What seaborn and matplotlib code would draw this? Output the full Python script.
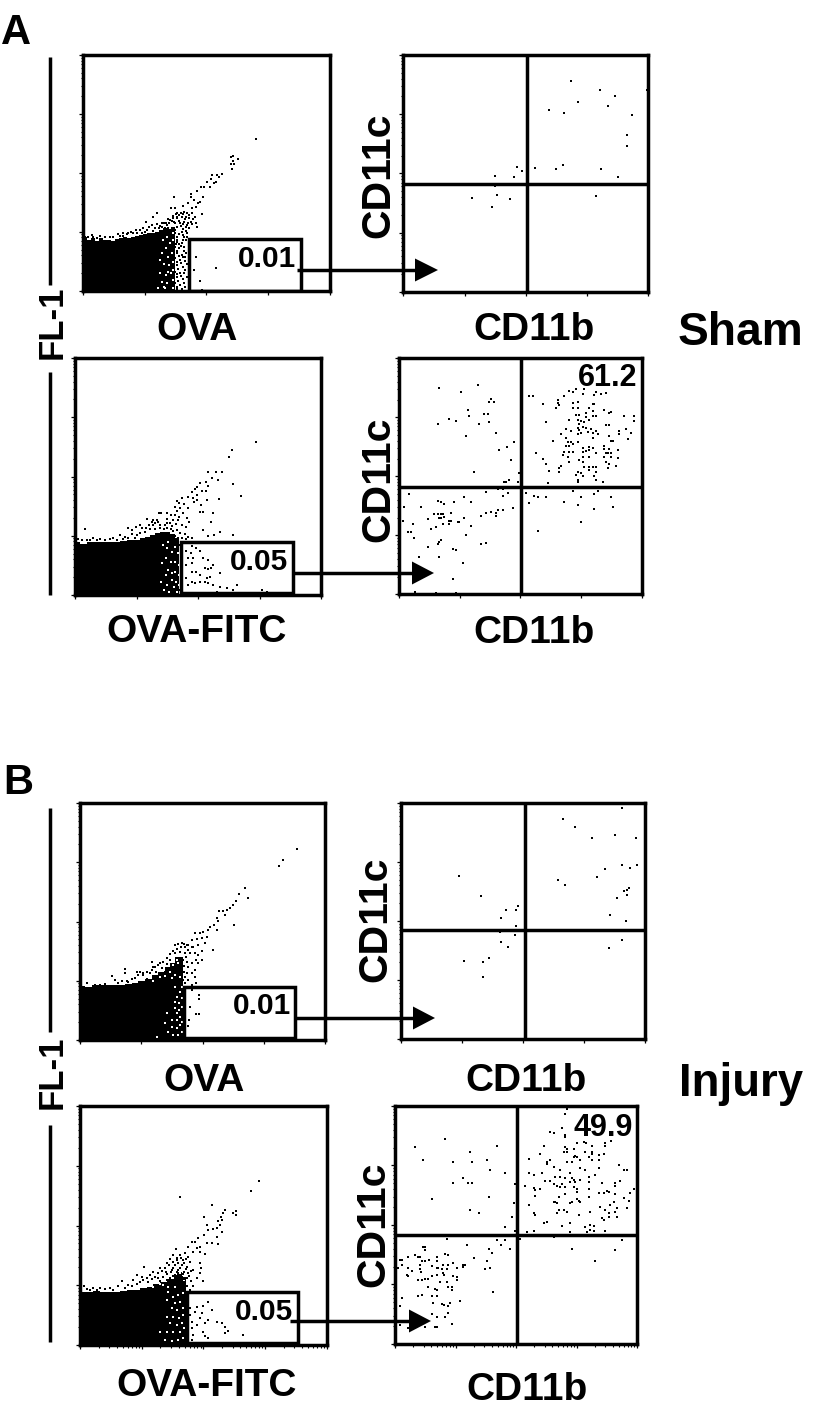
import numpy as np
import matplotlib
matplotlib.use("Agg")
import matplotlib.pyplot as plt
from matplotlib.patches import Polygon, Rectangle
import seaborn as sns

sns.set_style("white")
plt.rcParams["font.family"] = ["Liberation Sans", "DejaVu Sans"]
W, H = 816, 1407

# ---- axis ranges of each panel, in the instrument channel units used below
p1_range = (68, 810, 752, 45)
p2_range = (40, 775, 755, 45)
p3_range = (45, 783, 750, 40)
p4_range = (42, 770, 748, 40)
p5_range = (60, 795, 750, 40)
p6_range = (47, 780, 748, 40)
p7_range = (60, 800, 750, 33)
p8_range = (30, 757, 748, 33)

# ---- quadrant gates (x, y) and percentages
p2_cross = (410, 432)
p4_cross = (408, 425)
p6_cross = (420, 422)
p8_cross = (397, 420)
p1_gate = (388, 722, 597, 752)
p3_gate = (363, 698, 592, 745)
p5_gate = (373, 705, 590, 745)
p7_gate = (380, 715, 590, 745)
gate_labels = ["0.01", "0.05", "0.01", "0.05"]
quad_labels = ["61.2", "49.9"]

# ---- saturated population outline: channel x, upper edge
p1_mass_x = [68, 80, 92, 104, 116, 128, 140, 152, 164, 176, 188, 200, 212, 224, 236, 248, 260, 272, 284, 296, 308, 320, 332, 345]
p1_mass_top = [592, 600, 594, 602, 594, 600, 600, 604, 598, 594, 592, 594, 590, 588, 585, 582, 580, 578, 575, 570, 565, 562, 560, 560]
p3_mass_x = [45, 60, 80, 100, 120, 140, 160, 180, 200, 220, 240, 255, 270, 285, 300, 315, 330, 345, 358]
p3_mass_top = [592, 596, 592, 590, 590, 590, 590, 588, 586, 584, 580, 576, 570, 565, 560, 560, 566, 580, 600]
p5_mass_x = [60, 75, 95, 115, 135, 155, 175, 195, 215, 235, 255, 275, 295, 315, 330, 345, 358, 368]
p5_mass_top = [588, 590, 586, 586, 586, 584, 584, 582, 578, 572, 566, 556, 545, 532, 518, 502, 500, 530]
p7_mass_x = [60, 80, 100, 120, 140, 160, 180, 200, 220, 240, 260, 280, 300, 320, 335, 350, 365, 378]
p7_mass_top = [590, 592, 588, 590, 590, 590, 588, 586, 584, 580, 576, 568, 560, 552, 540, 530, 545, 585]

# ---- events
p1_events = [(589,296),(513,350),(520,347),(535,357),(520,362),(513,372),(522,373),(515,386),(487,402),(472,405),(455,405),(477,412),(452,418),(468,425),(440,425),(431,440),(422,442),(463,430),(450,440),(410,452),(392,463),(392,472),(430,470),(402,480),(415,488),(420,485),(343,470),(385,490),(370,498),(395,505),(408,500),(332,505),(345,505),(425,522),(290,518),(280,530),(258,545),(405,532),(407,548),(412,560),
(350,518),(362,518),(372,515),(380,520),(388,525),(395,520),(340,528),(352,530),(365,530),(378,532),(388,535),(398,538),(325,538),(335,542),(358,542),(372,545),(385,548),(395,552),(312,548),(345,550),(322,555),(362,558),(378,560),(388,565),(300,558),(292,552),(275,555),(268,562),(250,565),(240,570),(228,570),(212,575),(205,580),(190,578),(180,588),(160,590),(135,590),(120,587),(100,590),(85,590),(72,578),(345,570),(365,575),(382,580),(350,590),(372,592),
(350,605),(365,610),(378,600),(345,620),(358,625),(372,622),(350,640),(365,645),(378,640),(345,655),(360,660),(375,662),(350,675),(368,680),(380,672),(345,695),(360,698),(375,690),(350,712),(368,718),(380,710),(345,730),(360,735),(375,742),(352,748),(330,748),
(407,652),(402,690),(468,685),(420,722),(425,750)]
p1_fringe = [(305,560),(315,565),(328,548),(338,535),(348,522),(358,525),(368,522),(375,538),(360,550),(370,552),(382,555),(392,545),(352,562),(368,568),(378,572),(358,582),(368,585),(380,592),(345,580),(335,565),(310,575),(300,572),(285,565),(278,572),(262,570),(255,577),(245,578),(232,578),(220,578),(200,582),(190,588),(175,582),(150,592),(110,595),(95,585),(75,590),(352,535),(342,545),(330,540),(318,548),(305,550),(296,565),(352,600),(358,612),(348,612),(370,600),(362,618),(352,632),(372,632),(356,648),(370,652),(352,665),(364,670),(376,650),(354,686),(372,700),(350,702),(362,708),(355,722),(372,728),(350,742),(365,748)]
p1_gaps = [(305,640),(318,625),(330,610),(338,580),(320,590),(308,600),(325,650),(335,640),(312,672),(328,675),(338,665),(300,700),(318,705),(332,698),(305,725),(322,730),(338,720),(295,745),(315,745),(340,745),(300,660),(340,690),(330,565),(340,600),(325,695),(312,742)]

p2_events = [(543,122),(629,150),(675,169),(771,150),(564,187),(654,197),(478,211),(522,220),(725,225),(710,285),(710,318),(382,380),(396,393),(436,384),(497,388),(518,375),(634,388),(685,412),(315,407),(371,412),(316,437),(321,464),(245,473),(361,478),(305,501),(618,468)]

p3_events = [(587,292),(516,315),(506,338),(445,382),(467,382),(487,382),(473,405),(455,400),(520,418),(543,452),(478,462),(438,412),(420,415),(412,425),(405,432),(445,422),(395,440),(425,438),(438,438),(410,450),(400,458),(385,455),(365,458),(352,468),(358,475),(412,465),(402,472),(440,465),(422,480),(345,485),(360,490),(372,478),(385,488),(350,497),(296,504),(303,504),(420,500),(428,500),(458,505),(320,505),(332,510),(345,510),(358,515),(370,505),(380,520),(322,522),(340,525),(355,525),(452,532),(388,530),(280,525),(290,525),(262,523),(330,535),(348,538),(365,540),(378,545),(268,540),(280,540),(300,540),(315,540),(240,540),(245,550),(228,545),(205,548),(215,555),(312,552),(332,552),(350,555),(430,555),(480,562),(75,551),(462,570),(520,570),(445,572),(360,565),(375,568),(385,575),(405,590),(415,590),(430,595),(395,580),(230,570),(215,568),(195,575),(180,570),(170,585),(150,582),(120,582),(100,580),(55,582),(80,585),
(395,602),(408,610),(378,618),(393,625),(420,618),(430,640),(385,640),(400,640),(445,645),(378,660),(395,655),(435,670),(445,672),(458,660),(452,668),(480,683),(395,680),(408,680),(420,690),(440,700),(450,695),(395,712),(405,715),(420,712),(435,712),(445,715),(458,720),(480,725),(500,728),(530,720),(520,735),(605,735),(620,740),(470,740),(490,745),(385,720),(378,700),
(370,745),(380,745),(390,745),(400,745),(410,745),(420,745),(430,745),(440,745),(450,745),(460,745),(470,745),
(340,600),(350,615),(345,640),(355,635),(340,665),(352,670),(345,690),(355,700),(338,715),(350,722),(358,735),(340,735)]
p3_fringe = [(275,530),(285,535),(295,532),(258,548),(270,552),(285,552),(300,550),(322,535),(335,542),(322,548),(340,558),(255,560),(240,565),(225,578),(205,580),(188,582),(135,584),(90,584),(65,585),(110,584),(160,578),(345,572),(355,580),(366,580),(378,582),(388,590),(335,575),(352,592),(360,600)]
p3_gaps = [(320,610),(335,620),(318,640),(332,650),(305,655),(325,675),(335,685),(318,690),(302,712),(320,720),(335,705),(312,735),(328,740),(345,605),(355,625),(345,650),(358,660),(345,680),(358,690),(348,710),(358,720),(342,725),(352,740),(310,600),(325,590)]

p4_events = [(162,128),(228,142),(278,119),(318,161),(312,171),(327,171),(248,195),(252,212),(297,208),(308,208),(192,223),(212,227),(158,236),(283,236),(313,232),(333,264),(242,273),(388,292),(367,307),(343,315),(378,344),(268,382),(373,405),(362,410),(357,411),(398,410),(403,385),
(433,152),(443,152),(553,138),(573,131),(563,141),(598,131),(593,146),(633,142),(628,151),(648,147),(663,144),(538,152),(518,165),(518,175),(473,176),(523,180),(513,188),(563,175),(578,171),(623,176),(628,176),(578,188),(563,190),(613,188),(623,197),(658,195),(678,200),(673,205),(718,212),(748,212),(748,227),(483,232),(553,225),(573,211),(583,211),(603,205),(603,215),(623,212),(633,212),(578,225),(588,228),(598,232),(613,225),(583,238),(593,245),(663,240),(673,240),(543,252),(558,258),(578,250),(583,255),(603,250),(618,252),(633,257),(723,252),(703,258),(738,264),(528,268),(578,268),(588,265),(608,262),(623,265),(638,266),(703,268),(673,273),(543,278),(503,287),(548,292),(558,292),(578,290),(623,280),(678,287),(683,287),(728,283),(543,302),(553,302),(563,297),(593,308),(613,305),(658,302),(658,311),(673,312),(698,315),(538,320),(533,330),(553,322),(563,320),(593,320),(603,318),(613,315),(623,310),(633,325),(663,325),(668,325),(678,325),(453,325),(473,341),(548,337),(553,352),(593,335),(613,335),(658,335),(678,335),(698,340),(528,362),(583,345),(593,352),(598,365),(613,365),(623,365),(633,365),(663,350),(673,358),(693,362),(483,358),(523,368),(493,377),(523,382),(578,380),(588,385),(613,375),(633,380),(573,390),(593,392),(628,392),(668,368),(578,405),(578,410),(633,405),(653,410),(488,415),(603,430),
(423,443),(448,452),(458,457),(483,457),(433,473),(563,438),(588,457),(628,447),(638,438),(678,457),(538,472),(578,481),(628,491),(683,486),(588,532),(458,557),
(73,448),(58,485),(108,485),(158,467),(168,471),(178,476),(208,471),(238,457),(258,472),(303,440),(338,433),(353,431),(368,443),(353,452),(383,490),(353,495),(338,495),(333,505),(333,512),(318,500),(303,505),(288,513),(238,518),(198,505),(148,508),(158,508),(168,508),(173,508),(163,518),(168,520),(128,523),(178,515),(53,527),(193,528),(198,528),(218,532),(223,532),(83,537),(173,538),(193,538),(138,551),(153,547),(258,542),(68,560),(78,560),(88,580),(168,584),(163,590),(158,598),(128,606),(243,570),(288,598),(303,593),(203,611),(213,616),(103,635),(163,635),(233,655),(203,701),(90,741),(153,744),(213,744)]

p5_events = [(712,177),(669,210),(656,229),(555,296),(538,314),(565,324),(527,335),(518,345),(510,355),(500,360),(490,365),(478,365),(495,375),(470,385),(475,393),(462,405),(450,410),(522,404),(470,420),(445,420),(430,425),(420,430),(440,440),(405,430),(425,445),(410,448),(395,450),(435,460),(415,465),(400,470),(385,465),(460,480),(375,470),(345,465),(425,483),(415,495),(405,490),(390,490),(408,510),(425,510),(395,520),(415,520),(385,530),(405,540),(395,550),(405,560),(195,537),(195,548),(155,557),(185,572),(165,570),(175,578),(205,575),(240,545),(248,555),(225,565),(260,568),(275,515),(280,530),(295,525),(270,550),(300,550),(315,545),(255,575),(385,570),(395,585),(408,580),(375,580),(80,580),(105,585),(120,585),(135,582),
(395,600),(418,615),(418,627),(390,650),(408,673),(418,673),(388,690),(383,707),(460,745)]
p5_fringe = [(355,462),(365,460),(372,462),(380,465),(362,472),(350,478),(340,482),(330,492),(345,490),(360,485),(375,490),(385,480),(395,470),(378,500),(368,510),(380,515),(372,528),(320,505),(310,515),(300,520),(330,510),(285,530),(275,540),(262,545),(250,548),(235,555),(215,568),(200,572),(230,545),(305,535),(288,545),(320,522),(372,545),(382,548),(376,560),(368,570),(360,578),(345,570),(355,590)]
p5_gaps = [(365,590),(360,605),(352,620),(345,635),(358,640),(345,655),(358,660),(350,670),(320,668),(335,690),(350,690),(360,680),(315,700),(335,710),(350,715),(360,705),(325,725),(340,735),(355,735),(290,742),(345,555),(330,545),(355,520),(340,525),(352,510),(360,560),(300,560),(280,572),(365,625),(365,650),(365,695),(365,725),(335,565),(315,558),(345,590)]

p6_events = [(711,55),(535,89),(570,112),(691,135),(620,145),(752,145),(222,258),(711,226),(757,226),(736,234),(661,239),(636,263),(520,272),(540,286),(732,296),(717,305),(727,300),(727,315),(697,325),(288,320),(398,348),(363,362),(393,362),(349,386),(676,376),(722,395),(393,410),(344,428),(389,437),(349,456),(368,471),(711,452),(671,476),(312,505),(237,513),(293,518),(293,561)]

p7_events = [(598,258),(573,287),(360,307),(455,331),(495,345),(518,355),(527,347),(527,360),(490,355),(482,365),(475,378),(485,375),(432,365),(440,390),(480,390),(470,400),(487,412),(460,403),(445,405),(432,420),(415,428),(470,425),(455,445),(475,447),(440,445),(405,440),(420,455),(395,440),(410,460),(385,455),(347,462),(400,470),(420,470),(435,478),(375,475),(360,480),(385,485),(340,480),(330,492),(350,495),(370,495),(390,500),(320,505),(345,510),(365,510),(382,515),(420,505),(422,520),(400,525),(252,515),(300,520),(315,520),(335,525),(355,525),(372,530),(385,535),(420,535),(428,558),(410,548),(280,530),(295,535),(320,538),(345,540),(365,545),(382,550),(230,540),(245,545),(262,548),(185,558),(220,555),(240,560),(265,562),(295,550),(320,555),(345,560),(375,565),(400,572),(205,570),(175,572),(150,578),(120,578),(100,580),(72,572),(80,582),(160,585),(335,575),(360,578),(390,585),
(445,620),(430,632),(410,637),(390,640),(405,650),(425,655),(455,645),(390,660),(420,668),(445,675),(470,680),(485,683),(395,680),(410,690),(435,685),(395,700),(495,697),(503,707),(430,712),(495,715),(550,720),(398,720),(435,722),(445,728),(395,735)]
p7_fringe = [(352,488),(362,490),(378,492),(338,500),(355,505),(372,505),(328,510),(340,518),(360,518),(378,522),(392,528),(306,528),(318,530),(332,532),(350,532),(370,538),(388,542),(270,540),(285,545),(308,545),(330,548),(355,550),(372,552),(392,558),(250,555),(275,552),(300,558),(330,562),(360,565),(382,572),(230,568),(215,572),(195,578),(135,582),(110,585),(90,586),(355,590),(370,585)]
p7_gaps = [(325,590),(340,605),(355,600),(370,595),(322,615),(345,625),(360,620),(335,640),(350,645),(368,640),(320,665),(340,665),(358,670),(370,660),(330,685),(350,690),(365,685),(300,710),(320,710),(340,712),(360,710),(372,700),(315,735),(335,738),(355,735),(370,730),(345,575),(325,575),(310,570),(340,550),(360,535),(372,555),(345,535),(300,568),(280,575)]

p8_events = [(180,133),(90,157),(336,153),(255,172),(114,196),(205,201),(261,201),(306,196),(315,225),(361,235),(235,249),(205,264),(250,264),(261,264),(391,268),(140,311),(311,307),(387,325),(255,346),(281,355),(381,365),(361,398),(391,410),
(547,42),(542,57),(532,100),(497,110),(507,115),(542,120),(542,125),(662,143),(678,138),(598,140),(603,143),(577,144),(477,153),(542,157),(547,162),(622,153),(567,162),(662,153),(537,172),(547,172),(602,172),(622,172),(622,178),(642,180),(657,178),(467,177),(572,183),(577,187),(567,187),(612,187),(497,196),(487,201),(487,206),(432,191),(547,201),(562,201),(587,196),(622,196),(642,196),(507,216),(587,220),(602,225),(642,220),(702,211),(717,225),(727,225),(432,235),(447,239),(472,235),(527,225),(557,235),(632,240),(512,245),(527,245),(542,250),(562,250),(567,255),(587,255),(612,245),(482,258),(497,258),(507,268),(517,272),(532,268),(557,262),(572,262),(612,262),(652,264),(692,264),(707,258),(692,272),(422,273),(447,278),(452,284),(467,282),(527,277),(542,277),(567,277),(577,281),(612,281),(642,293),(657,293),(667,287),(672,291),(692,296),(737,294),(747,283),(452,302),(522,306),(542,296),(577,290),(717,308),(732,317),(512,320),(517,325),(507,322),(557,325),(562,320),(577,311),(582,318),(587,320),(612,306),(432,331),(677,330),(687,320),(647,335),(697,340),(727,340),(447,355),(452,360),(517,355),(522,345),(537,346),(547,350),(582,360),(617,350),(662,345),(672,355),(692,350),(652,370),(657,374),(672,365),(697,365),(477,384),(487,380),(532,394),(557,384),(617,390),(627,394),(602,398),(617,405),(627,408),(662,408),(447,408),(427,413),(557,413),(607,413),
(405,433),(507,428),(712,437),(562,462),(692,465),(632,500),
(185,433),(337,437),(360,437),(347,452),(245,452),(376,462),(311,462),(321,476),(266,490),(306,500),(316,520),(301,524),(325,591),
(115,457),(120,457),(120,466),(90,481),(100,486),(105,486),(70,486),(45,496),(50,496),(110,500),(120,500),(132,495),(155,486),(180,477),(190,481),(155,500),(205,505),(175,510),(190,510),(50,510),(105,510),(140,515),(155,520),(160,520),(235,510),(240,510),(235,518),(215,520),(40,520),(70,520),(105,524),(80,530),(172,524),(185,524),(108,532),(175,535),(155,540),(140,543),(178,540),(65,542),(70,544),(205,544),(215,548),(100,557),(110,557),(120,553),(130,553),(165,562),(215,557),(185,562),(130,576),(150,582),(155,585),(190,576),(200,576),(200,587),(100,603),(110,601),(140,605),(155,605),(50,610),(145,625),(172,628),(178,630),(195,625),(190,635),(225,620),(45,635),(190,655),(140,658),(155,668),(180,668),(45,692),(70,700),(120,697),(150,697),(155,697),(200,687)]

# ---- text labels
section_labels = ["A", "B"]
group_labels = ["Sham", "Injury"]
x_labels_left = ["OVA", "OVA-FITC", "OVA", "OVA-FITC"]
x_label_right = "CD11b"
y_label_right = "CD11c"
y_label_left = "FL-1"

fig = plt.figure(figsize=(W / 100, H / 100), dpi=100, facecolor="white")
LW = 2.5


def panel(box, rng, minor_bottom=False):
    l, r, t, b = box
    ax = fig.add_axes([l / W, 1 - b / H, (r - l) / W, (b - t) / H])
    ax.set_xlim(rng[0], rng[1])
    ax.set_ylim(rng[2], rng[3])
    for s in ax.spines.values():
        s.set_visible(True)
        s.set_color("black")
        s.set_linewidth(LW)
    dx = (rng[1] - rng[0]) / 4
    dy = (rng[2] - rng[3]) / 4
    ax.set_xticks([rng[0] + i * dx for i in range(5)])
    ax.set_yticks([rng[2] - i * dy for i in range(5)])
    logs = np.log10(np.arange(2, 10))
    ax.set_yticks([rng[2] - (i + f) * dy for i in range(4) for f in logs], minor=True)
    if minor_bottom:
        ax.set_xticks([rng[0] + (i + f) * dx for i in range(4) for f in logs], minor=True)
    ax.set_xticklabels([])
    ax.set_yticklabels([])
    ax.tick_params(which="major", direction="out", length=2.8, width=0.9, left=True, bottom=True, color="black")
    ax.tick_params(which="minor", direction="out", length=1.8, width=0.8, left=True, bottom=minor_bottom, color="black")
    ax.set_xlabel("")
    ax.set_ylabel("")
    return ax


def dots(ax, pts, color="black", size=2.6, z=3):
    xs, ys = zip(*pts)
    sns.scatterplot(x=list(xs), y=list(ys), ax=ax, marker="s", s=size, color=color,
                    linewidth=0, legend=False, zorder=z, clip_on=True)


def density(box, rng, mx, mt, events, fringe, gaps, gate, minor_bottom=False):
    ax = panel(box, rng, minor_bottom)
    ax.fill_between(mx, mt, rng[2], step="post", color="black", linewidth=0, zorder=1)
    dots(ax, gaps, color="white", size=3.0, z=2)
    dots(ax, events, size=3.2)
    dots(ax, fringe, size=3.2)
    ax.add_patch(Rectangle((gate[0], gate[2]), gate[1] - gate[0], gate[3] - gate[2],
                           fill=False, ec="black", lw=LW, zorder=4))
    return ax


def quadrant(box, rng, events, cross, minor_bottom=False):
    ax = panel(box, rng, minor_bottom)
    dots(ax, events, size=2.6)
    ax.axvline(cross[0], color="black", lw=LW, zorder=4)
    ax.axhline(cross[1], color="black", lw=LW, zorder=4)
    return ax


density((82.7, 330, 55, 290.7), p1_range, p1_mass_x, p1_mass_top, p1_events, p1_fringe, p1_gaps, p1_gate)
quadrant((403.3, 648.3, 55, 291.7), p2_range, p2_events, p2_cross)
density((75, 321, 358, 595), p3_range, p3_mass_x, p3_mass_top, p3_events, p3_fringe, p3_gaps, p3_gate)
quadrant((399, 641.7, 358.3, 594.3), p4_range, p4_events, p4_cross)
density((80, 325, 803, 1040), p5_range, p5_mass_x, p5_mass_top, p5_events, p5_fringe, p5_gaps, p5_gate)
quadrant((400.7, 645, 803, 1039), p6_range, p6_events, p6_cross)
density((80, 326.7, 1106, 1345), p7_range, p7_mass_x, p7_mass_top, p7_events, p7_fringe, p7_gaps, p7_gate, True)
quadrant((395, 637, 1106, 1344), p8_range, p8_events, p8_cross, True)

# overlay in figure pixels for annotation
ov = fig.add_axes([0, 0, 1, 1], facecolor="none", zorder=10)
ov.set_xlim(0, W)
ov.set_ylim(H, 0)
ov.axis("off")

arrows = [(297, 415, 438, 270), (293, 412, 434, 573), (295, 413, 435, 1018), (290, 409, 431, 1321)]
for x0, xh, xt, y in arrows:
    ov.plot([x0, xh], [y, y], color="black", lw=LW, solid_capstyle="butt")
    ov.add_patch(Polygon([(xh, y - 11.5), (xt, y), (xh, y + 11.5)], closed=True, fc="black", ec="none"))

for y0, y1 in [(57, 285), (372, 595), (808, 1032), (1125, 1342)]:
    ov.plot([50, 50], [y0, y1], color="black", lw=LW, solid_capstyle="butt")


def label(x, y, s, size, rot=0, ha="center"):
    ov.text(x, y, s, fontsize=size, fontweight="bold", ha=ha, va="center_baseline",
            rotation=rot, rotation_mode="anchor", color="black")


label(16, 28, section_labels[0], 30)
label(18, 779, section_labels[1], 30)
label(740, 328, group_labels[0], 33.2)
label(741, 1079, group_labels[1], 32.8)
label(49, 322, y_label_left, 25, rot=90)
label(49, 1072, y_label_left, 25, rot=90)

for (x, y), s in zip([(197, 326), (197, 628), (204, 1077), (207, 1382)], x_labels_left):
    label(x, y, s, 28)
for x, y in [(534, 326), (534, 629), (526, 1077), (527, 1386)]:
    label(x, y, x_label_right, 28)
for x, y in [(374, 175), (374, 479), (371, 919), (369, 1224)]:
    label(x, y, y_label_right, 29.5, rot=90)

for (x, y), s in zip([(296, 256), (288, 559), (291, 1003), (293, 1309)], gate_labels):
    label(x, y, s, 21.5, ha="right")
for (x, y), s in zip([(637, 375), (633, 1124)], quad_labels):
    label(x, y, s, 22, ha="right")

fig.savefig("out.png", dpi=100, facecolor="white")
